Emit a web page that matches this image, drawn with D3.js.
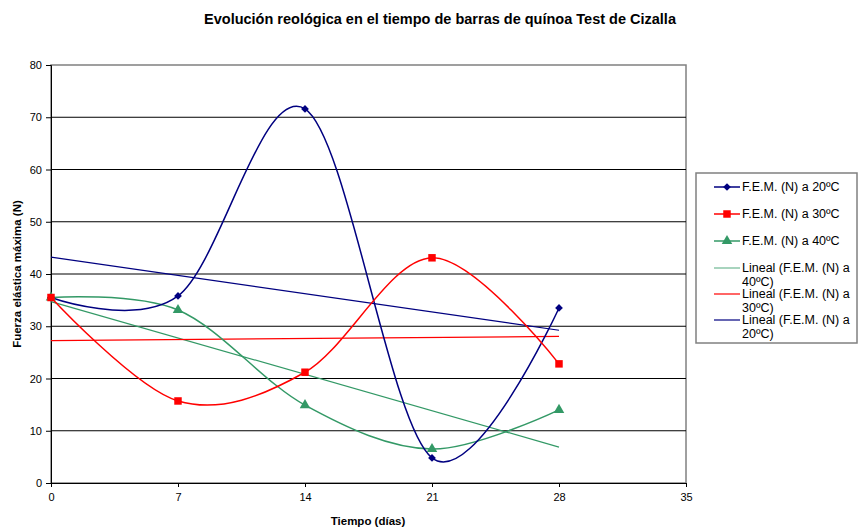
<!DOCTYPE html>
<html><head><meta charset="utf-8">
<script src="https://cdn.jsdelivr.net/npm/d3@7"></script>
<style>body{margin:0;background:#fff}svg{display:block;font-family:"Liberation Sans",Arial,sans-serif}</style>
</head><body><svg id="c" width="860" height="531"></svg>
<script>
const days = [0, 7, 14, 21, 28];
const fem20 = [35.5, 35.8, 71.6, 4.8, 33.5];
const fem30 = [35.5, 15.7, 21.2, 43.1, 22.8];
const fem40 = [35.5, 33.1, 14.9, 6.5, 14.0];
const xTicks = [0, 7, 14, 21, 28, 35];
const yTicks = [0, 10, 20, 30, 40, 50, 60, 70, 80];
const legendLabels = ["F.E.M. (N) a 20ºC", "F.E.M. (N) a 30ºC", "F.E.M. (N) a 40ºC",
  ["Lineal (F.E.M. (N) a", "40ºC)"], ["Lineal (F.E.M. (N) a", "30ºC)"], ["Lineal (F.E.M. (N) a", "20ºC)"]];

const svg = d3.select("#c");
const x = d3.scaleLinear().domain([0, 35]).range([51, 686]);
const y = d3.scaleLinear().domain([0, 80]).range([483, 65]);

// plot area frame and gridlines
svg.append("rect").attr("x", 51).attr("y", 65).attr("width", 635).attr("height", 418)
  .attr("fill", "#fff").attr("stroke", "#808080").attr("stroke-width", 1.5);
svg.selectAll(".grid").data(yTicks.filter(d => d > 0 && d < 80)).join("line")
  .attr("x1", 51).attr("x2", 686).attr("y1", d => y(d)).attr("y2", d => y(d))
  .attr("stroke", "#000").attr("stroke-width", 1);

// axes
const yAxis = svg.append("g").attr("transform", "translate(51,0)")
  .call(d3.axisLeft(y).tickValues(yTicks).tickSize(5).tickPadding(4));
const xAxis = svg.append("g").attr("transform", "translate(0,483)")
  .call(d3.axisBottom(x).tickValues(xTicks).tickSize(4).tickPadding(6));
[yAxis, xAxis].forEach(g => {
  g.select(".domain").attr("stroke", "#000");
  g.selectAll(".tick line").attr("stroke", "#000");
  g.selectAll("text").attr("font-size", 11).attr("fill", "#000").attr("font-family", "Liberation Sans, Arial, sans-serif");
});

// least-squares trend lines
function fit(vals) {
  const mx = d3.mean(days), my = d3.mean(vals);
  const b = d3.sum(days, (d, i) => (d - mx) * (vals[i] - my)) / d3.sum(days, d => (d - mx) ** 2);
  const a = my - b * mx;
  return [[0, a], [28, a + b * 28]];
}
const straight = d3.line().x(d => x(d[0])).y(d => y(d[1]));
const trends = [[fem40, "#339966"], [fem30, "#ff0000"], [fem20, "#000080"]];
trends.forEach(([vals, col]) => {
  svg.append("path").attr("d", straight(fit(vals))).attr("fill", "none")
    .attr("stroke", col).attr("stroke-width", 1.2);
});

// smoothed series
const smooth = d3.line().x((d, i) => x(days[i])).y(d => y(d)).curve(d3.curveCardinal.tension(0));
const series = [
  { vals: fem40, col: "#339966", sym: d3.symbolTriangle, size: 48, rot: 0 },
  { vals: fem20, col: "#000080", sym: d3.symbolSquare, size: 30, rot: 45 },
  { vals: fem30, col: "#ff0000", sym: d3.symbolSquare, size: 56, rot: 0 }
];
series.forEach(s => {
  svg.append("path").attr("d", smooth(s.vals)).attr("fill", "none")
    .attr("stroke", s.col).attr("stroke-width", 1.5);
});
series.forEach(s => {
  svg.append("g").selectAll("path").data(s.vals).join("path")
    .attr("transform", (d, i) => `translate(${x(days[i])},${y(d)}) rotate(${s.rot})`)
    .attr("d", d3.symbol().type(s.sym).size(s.size)).attr("fill", s.col);
});

// titles
svg.append("text").attr("x", 440).attr("y", 24).attr("text-anchor", "middle")
  .attr("font-size", 14.5).attr("font-weight", "bold").text("Evolución reológica en el tiempo de barras de quínoa Test de Cizalla");
svg.append("text").attr("x", 368).attr("y", 525).attr("text-anchor", "middle")
  .attr("font-size", 11.5).attr("font-weight", "bold").text("Tiempo (días)");
svg.append("text").attr("transform", "translate(21,274) rotate(-90)").attr("text-anchor", "middle")
  .attr("font-size", 11.5).attr("font-weight", "bold").text("Fuerza elástica máxima (N)");

// legend
svg.append("rect").attr("x", 696).attr("y", 173).attr("width", 161).attr("height", 170)
  .attr("fill", "#fff").attr("stroke", "#808080").attr("stroke-width", 1.5);
const legCols = ["#000080", "#ff0000", "#339966", "#339966", "#ff0000", "#000080"];
const legSyms = [d3.symbolSquare, d3.symbolSquare, d3.symbolTriangle, null, null, null];
const legSizes = [30, 56, 48];
const legRot = [45, 0, 0];
const legY = [187, 214, 241, 268, 294, 320];
legendLabels.forEach((lab, i) => {
  const g = svg.append("g");
  g.append("line").attr("x1", 714).attr("x2", 740).attr("y1", legY[i]).attr("y2", legY[i])
    .attr("stroke", legCols[i]).attr("stroke-width", i < 3 ? 1.5 : 1.2)
    .attr("opacity", i === 3 ? 0.7 : 1);
  if (legSyms[i]) g.append("path").attr("transform", `translate(727,${legY[i]}) rotate(${legRot[i]})`)
    .attr("d", d3.symbol().type(legSyms[i]).size(legSizes[i])).attr("fill", legCols[i]);
  const t = g.append("text").attr("x", 742).attr("y", legY[i] + 4).attr("font-size", 12.5);
  if (Array.isArray(lab)) {
    t.append("tspan").attr("x", 742).text(lab[0]);
    t.append("tspan").attr("x", 742).attr("dy", 13.5).text(lab[1]);
  } else t.text(lab);
});
</script></body></html>
